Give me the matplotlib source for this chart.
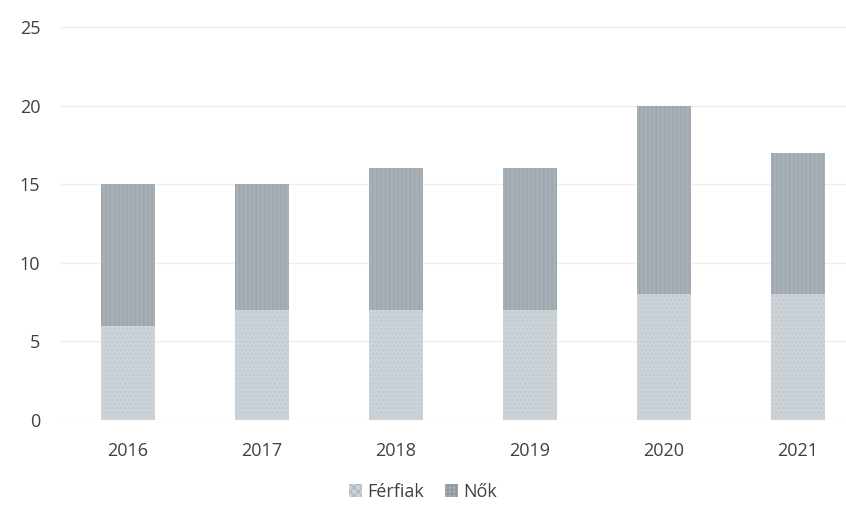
import matplotlib
matplotlib.use('Agg')
import matplotlib.pyplot as plt
from matplotlib.patches import Patch

# Data
years = ['2016', '2017', '2018', '2019', '2020', '2021']
ferfiak = [6, 7, 7, 7, 8, 8]
nok = [9, 8, 9, 9, 12, 9]

plt.rcParams['font.family'] = ['Open Sans', 'DejaVu Sans']

fig = plt.figure(figsize=(8.46, 5.14), dpi=100)
ax = fig.add_axes([61 / 846, 94 / 514, 785 / 846, 393 / 514])

x = list(range(len(years)))
light = '#ccd3d9'
dark = '#a8b0b7'
ax.bar(x, ferfiak, width=0.4, color=light, hatch='....', edgecolor='#c2cacf', linewidth=0, zorder=2)
ax.bar(x, nok, width=0.4, bottom=ferfiak, color=dark, hatch='||||', edgecolor='#9ea7ae', linewidth=0, zorder=2)

ax.set_xlim(-0.5, 5.36)
ax.set_ylim(0, 25)
ax.set_yticks([0, 5, 10, 15, 20, 25])
ax.set_xticks(x)
ax.set_xticklabels(years)
ax.yaxis.grid(True, color='#eeeeee', linewidth=1, zorder=0)
for s in ax.spines.values():
    s.set_visible(False)
ax.tick_params(length=0, labelsize=13, labelcolor='#404040')
ax.tick_params(axis='y', pad=15)
ax.tick_params(axis='x', pad=16)

handles = [Patch(facecolor=light, hatch='xxxx', edgecolor='#b0b8be', linewidth=0),
           Patch(facecolor=dark, hatch='++++', edgecolor='#8f979e', linewidth=0)]
fig.legend(handles, ['Férfiak', 'Nők'], loc='center', bbox_to_anchor=(0.5, 22 / 514),
           ncol=2, frameon=False, fontsize=13, labelcolor='#404040',
           handlelength=0.7, handleheight=0.7, handletextpad=0.3, columnspacing=1.2)

fig.savefig('out.png', dpi=100)
